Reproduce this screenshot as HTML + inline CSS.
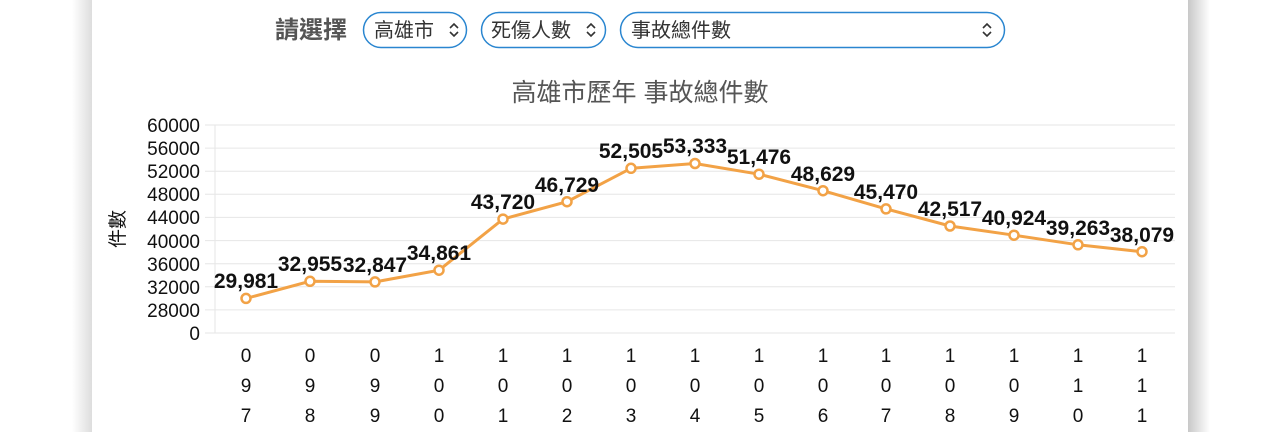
<!DOCTYPE html>
<html><head><meta charset="utf-8"><style>
body{margin:0;width:1280px;height:432px;background:#fff;overflow:hidden;font-family:"Liberation Sans","Noto Sans CJK TC",sans-serif}
</style></head><body>
<svg width="1280" height="432" xmlns="http://www.w3.org/2000/svg" font-family="Liberation Sans, Noto Sans CJK TC, sans-serif">
<defs>
<linearGradient id="ls" x1="0" x2="1"><stop offset="0" stop-color="#fff"/><stop offset="1" stop-color="#ddd"/></linearGradient>
<linearGradient id="rs" x1="0" x2="1"><stop offset="0" stop-color="#c8c8c8"/><stop offset="1" stop-color="#fff"/></linearGradient>
</defs>
<rect x="72" y="0" width="20" height="432" fill="url(#ls)"/>
<rect x="1188" y="0" width="22" height="432" fill="url(#rs)"/>
<text x="275" y="38" font-size="24" fill="#555" font-weight="bold">請選擇</text>
<rect x="363.5" y="12.5" width="103" height="35" rx="17.5" fill="#fff" stroke="#2a86d0" stroke-width="1.5"/>
<text x="374" y="37" font-size="20" fill="#333">高雄市</text>
<path d="M450 28l4-4 4 4M450 32l4 4 4-4" fill="none" stroke="#333" stroke-width="1.6"/>
<rect x="481.5" y="12.5" width="124" height="35" rx="17.5" fill="#fff" stroke="#2a86d0" stroke-width="1.5"/>
<text x="491" y="37" font-size="20" fill="#333">死傷人數</text>
<path d="M587 28l4-4 4 4M587 32l4 4 4-4" fill="none" stroke="#333" stroke-width="1.6"/>
<rect x="620.5" y="12.5" width="384" height="35" rx="17.5" fill="#fff" stroke="#2a86d0" stroke-width="1.5"/>
<text x="631" y="37" font-size="20" fill="#333">事故總件數</text>
<path d="M983 28l4-4 4 4M983 32l4 4 4-4" fill="none" stroke="#333" stroke-width="1.6"/>
<text x="640" y="101" font-size="25" fill="#555" text-anchor="middle">高雄市歷年 事故總件數</text>
<g stroke="#e6e6e6" stroke-width="1">
<line x1="205" x2="1175" y1="125" y2="125"/><line x1="205" x2="1175" y1="148.1" y2="148.1"/><line x1="205" x2="1175" y1="171.2" y2="171.2"/><line x1="205" x2="1175" y1="194.3" y2="194.3"/><line x1="205" x2="1175" y1="217.4" y2="217.4"/><line x1="205" x2="1175" y1="240.6" y2="240.6"/><line x1="205" x2="1175" y1="263.7" y2="263.7"/><line x1="205" x2="1175" y1="286.8" y2="286.8"/><line x1="205" x2="1175" y1="309.9" y2="309.9"/><line x1="205" x2="1175" y1="333" y2="333"/>
<line x1="215" x2="215" y1="125" y2="333"/>
</g>
<g font-size="19" fill="#111" text-anchor="end">
<text x="200" y="132">60000</text><text x="200" y="155">56000</text><text x="200" y="178">52000</text><text x="200" y="201">48000</text><text x="200" y="224">44000</text><text x="200" y="248">40000</text><text x="200" y="271">36000</text><text x="200" y="294">32000</text><text x="200" y="317">28000</text><text x="200" y="340">0</text>
</g>
<text transform="translate(124,229) rotate(-90)" font-size="19" fill="#111" text-anchor="middle">件數</text>
<polyline fill="none" stroke="#f2a246" stroke-width="3" points="246,298.4 310,281.3 375,281.9 439,270.2 503,219.1 567,201.7 631,168.3 695,163.5 759,174.2 823,190.7 886,208.9 950,226 1014,235.2 1078,244.8 1142,251.7"/>
<g fill="#fff" stroke="#f2a246" stroke-width="2.5">
<circle cx="246" cy="298.4" r="4.5"/><circle cx="310" cy="281.3" r="4.5"/><circle cx="375" cy="281.9" r="4.5"/><circle cx="439" cy="270.2" r="4.5"/><circle cx="503" cy="219.1" r="4.5"/><circle cx="567" cy="201.7" r="4.5"/><circle cx="631" cy="168.3" r="4.5"/><circle cx="695" cy="163.5" r="4.5"/><circle cx="759" cy="174.2" r="4.5"/><circle cx="823" cy="190.7" r="4.5"/><circle cx="886" cy="208.9" r="4.5"/><circle cx="950" cy="226" r="4.5"/><circle cx="1014" cy="235.2" r="4.5"/><circle cx="1078" cy="244.8" r="4.5"/><circle cx="1142" cy="251.7" r="4.5"/>
</g>
<g font-size="21" font-weight="bold" fill="#111" text-anchor="middle">
<text x="246" y="288">29,981</text><text x="310" y="271">32,955</text><text x="375" y="272">32,847</text><text x="439" y="260">34,861</text><text x="503" y="209">43,720</text><text x="567" y="192">46,729</text><text x="631" y="158">52,505</text><text x="695" y="153">53,333</text><text x="759" y="164">51,476</text><text x="823" y="181">48,629</text><text x="886" y="199">45,470</text><text x="950" y="216">42,517</text><text x="1014" y="225">40,924</text><text x="1078" y="235">39,263</text><text x="1142" y="242">38,079</text>
</g>
<g font-size="19" fill="#111" text-anchor="middle">
<text x="246" y="362">0</text><text x="246" y="392">9</text><text x="246" y="422">7</text>
<text x="310" y="362">0</text><text x="310" y="392">9</text><text x="310" y="422">8</text>
<text x="375" y="362">0</text><text x="375" y="392">9</text><text x="375" y="422">9</text>
<text x="439" y="362">1</text><text x="439" y="392">0</text><text x="439" y="422">0</text>
<text x="503" y="362">1</text><text x="503" y="392">0</text><text x="503" y="422">1</text>
<text x="567" y="362">1</text><text x="567" y="392">0</text><text x="567" y="422">2</text>
<text x="631" y="362">1</text><text x="631" y="392">0</text><text x="631" y="422">3</text>
<text x="695" y="362">1</text><text x="695" y="392">0</text><text x="695" y="422">4</text>
<text x="759" y="362">1</text><text x="759" y="392">0</text><text x="759" y="422">5</text>
<text x="823" y="362">1</text><text x="823" y="392">0</text><text x="823" y="422">6</text>
<text x="886" y="362">1</text><text x="886" y="392">0</text><text x="886" y="422">7</text>
<text x="950" y="362">1</text><text x="950" y="392">0</text><text x="950" y="422">8</text>
<text x="1014" y="362">1</text><text x="1014" y="392">0</text><text x="1014" y="422">9</text>
<text x="1078" y="362">1</text><text x="1078" y="392">1</text><text x="1078" y="422">0</text>
<text x="1142" y="362">1</text><text x="1142" y="392">1</text><text x="1142" y="422">1</text>
</g>
</svg>
</body></html>
